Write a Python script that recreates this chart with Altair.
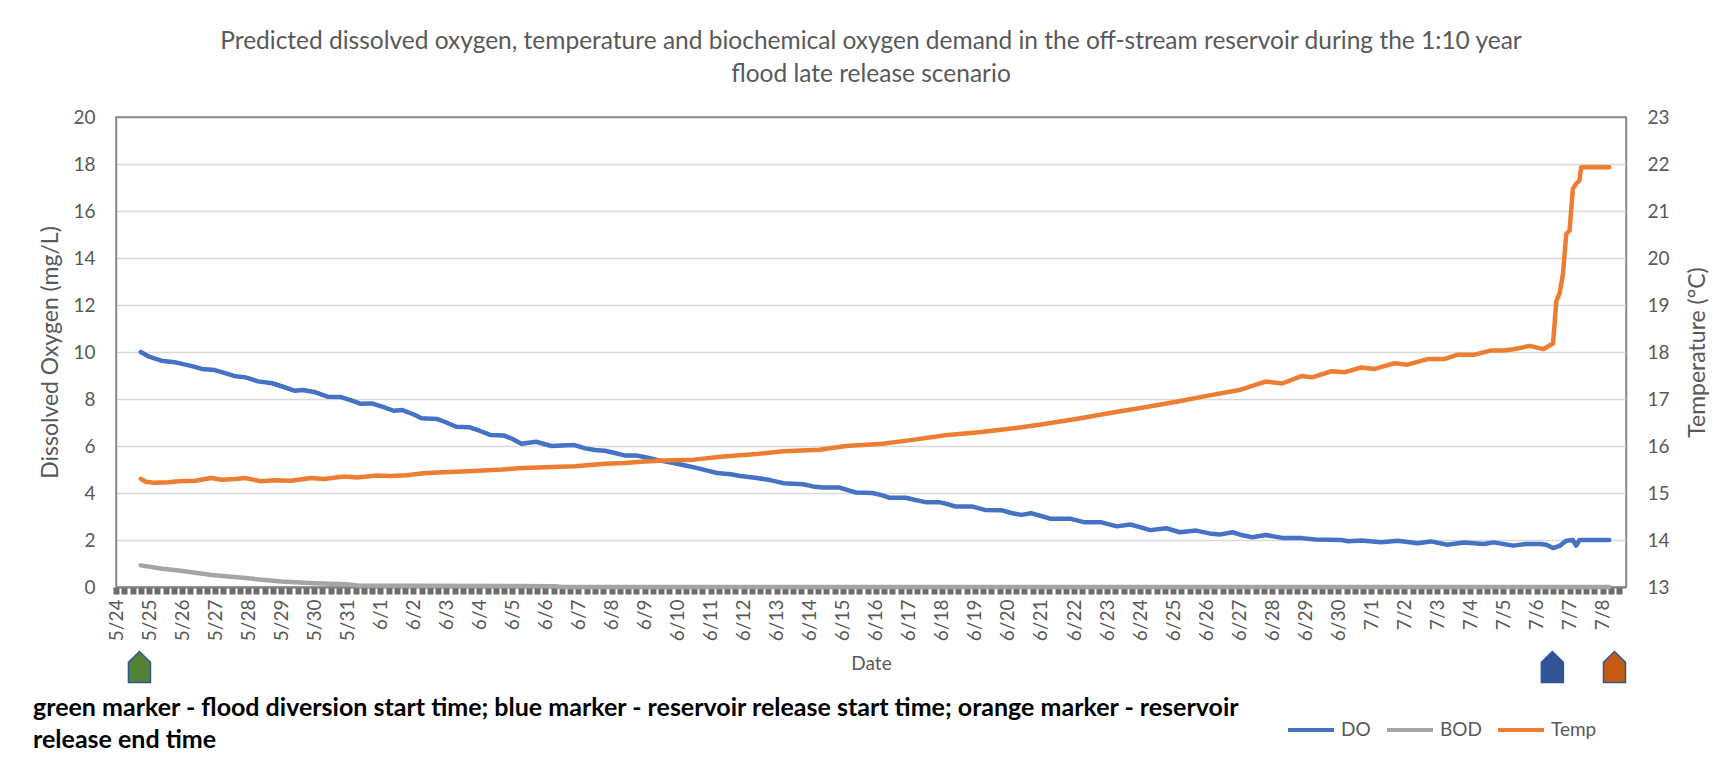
import altair as alt
import pandas as pd

# ---------------- data ----------------
START = "2020-05-24"

do_days = [0.75, 1.0, 1.37, 1.83, 2.3, 2.6, 2.99, 3.3, 3.57, 3.92, 4.3, 4.73, 5.1, 5.42, 5.65,
           6.0, 6.4, 6.81, 7.1, 7.39, 7.74, 8.1, 8.4, 8.67, 9.0, 9.25, 9.71, 10.0, 10.3, 10.69,
           11.0, 11.33, 11.73, 12.0, 12.27, 12.72, 13.18, 13.5, 13.88, 14.2, 14.5, 14.8, 15.1,
           15.39, 15.73, 16.1, 16.4, 16.8, 17.2, 17.6, 17.9, 18.2, 18.6, 18.9, 19.4, 19.8, 20.2,
           20.8, 21.1, 21.4, 21.9, 22.2, 22.4, 22.9, 23.2, 23.4, 23.9, 24.2, 24.5, 24.9, 25.2,
           25.4, 25.9, 26.3, 26.8, 27.1, 27.4, 27.7, 28.0, 28.3, 28.9, 29.3, 29.8, 30.3, 30.7,
           31.0, 31.3, 31.8, 32.2, 32.7, 33.1, 33.4, 33.8, 34.1, 34.4, 34.8, 35.3, 35.9, 36.3,
           37.1, 37.3, 37.7, 38.3, 38.8, 39.4, 39.8, 40.3, 40.8, 41.4, 41.7, 42.3, 42.7, 43.1,
           43.3, 43.5, 43.7, 43.9, 44.1, 44.2, 44.3, 45.2]
do_vals = [10.0, 9.8, 9.63, 9.55, 9.4, 9.28, 9.23, 9.1, 8.98, 8.92, 8.75, 8.67, 8.5, 8.35, 8.38,
           8.3, 8.1, 8.08, 7.95, 7.8, 7.81, 7.65, 7.5, 7.53, 7.35, 7.18, 7.15, 7.0, 6.82, 6.8,
           6.65, 6.47, 6.45, 6.3, 6.1, 6.18, 6.0, 6.02, 6.04, 5.9, 5.83, 5.8, 5.7,
           5.6, 5.6, 5.5, 5.4, 5.3, 5.18, 5.06, 4.95, 4.85, 4.8, 4.72, 4.64, 4.55, 4.42,
           4.37, 4.28, 4.23, 4.23, 4.1, 4.02, 4.0, 3.9, 3.8, 3.8, 3.7, 3.61, 3.61, 3.52,
           3.43, 3.43, 3.28, 3.27, 3.15, 3.07, 3.14, 3.02, 2.9, 2.9, 2.76, 2.76, 2.58, 2.66,
           2.55, 2.42, 2.5, 2.33, 2.4, 2.28, 2.23, 2.33, 2.2, 2.12, 2.21, 2.09, 2.08, 2.02,
           2.0, 1.95, 1.98, 1.9, 1.97, 1.86, 1.94, 1.8, 1.89, 1.83, 1.9, 1.76, 1.83, 1.83,
           1.8, 1.66, 1.75, 1.97, 2.0, 1.76, 2.0, 2.0]

bod_days = [0.75, 1.4, 1.9, 2.9, 4.0, 5.0, 6.0, 7.0, 7.3, 9.0, 12.0, 13.3, 13.5, 45.2]
bod_vals = [0.92, 0.78, 0.70, 0.51, 0.37, 0.23, 0.16, 0.12, 0.06, 0.05, 0.04, 0.03, 0.0, 0.0]

temp_days = [0.75, 0.9, 1.14, 1.6, 1.9, 2.4, 2.88, 3.2, 3.6, 3.9, 4.38, 4.8, 5.3, 5.9, 6.3, 6.9,
             7.3, 7.9, 8.3, 8.8, 9.3, 9.9, 10.5, 11.1, 11.7, 12.3, 12.8, 13.4, 13.9, 14.8, 15.4,
             16.0, 16.6, 17.5, 18.3, 19.4, 20.2, 21.3, 22.1, 23.2, 24.0, 25.1, 26.2, 27.3, 28.1,
             29.2, 30.0, 31.1, 32.1, 32.9, 34.0, 34.8, 35.3, 35.9, 36.2, 36.8, 37.2, 37.7, 38.1,
             38.7, 39.1, 39.7, 40.2, 40.6, 41.1, 41.6, 42.0, 42.3, 42.8, 43.2, 43.5, 43.6, 43.7,
             43.8, 43.9, 44.0, 44.1, 44.2, 44.3, 44.35, 45.2]
temp_vals = [15.30, 15.24, 15.22, 15.23, 15.25, 15.26, 15.32, 15.28, 15.30, 15.32, 15.25, 15.27,
             15.26, 15.32, 15.30, 15.35, 15.33, 15.37, 15.36, 15.38, 15.42, 15.44, 15.46, 15.48,
             15.50, 15.53, 15.54, 15.56, 15.57, 15.62, 15.64, 15.67, 15.69, 15.71, 15.77, 15.83,
             15.89, 15.92, 16.0, 16.05, 16.12, 16.23, 16.30, 16.39, 16.47, 16.59, 16.69, 16.82,
             16.94, 17.05, 17.19, 17.37, 17.33, 17.49, 17.46, 17.59, 17.57, 17.67, 17.64, 17.76,
             17.73, 17.85, 17.85, 17.94, 17.94, 18.03, 18.03, 18.06, 18.13, 18.06, 18.18, 19.09,
             19.25, 19.66, 20.51, 20.59, 21.47, 21.58, 21.65, 21.93, 21.93]

series_names = ["DO", "BOD", "Temp"]
series_colors = ["#4472C4", "#A5A5A5", "#ED7D31"]

marker_names = ["flood diversion start", "reservoir release start", "reservoir release end"]
marker_days = [0.71, 43.48, 45.36]
marker_fills = ["#548235", "#2F5597", "#C55A11"]

title_lines = ["Predicted dissolved oxygen, temperature and biochemical oxygen demand in the off-stream reservoir during the 1:10 year",
               "flood late release scenario"]
note_lines = ["green marker - flood diversion start time; blue marker - reservoir release start time; orange marker - reservoir",
              "release end time"]

# ---------------- tables ----------------
t0 = pd.Timestamp(START)


def to_time(days):
    return [(t0 + pd.to_timedelta(d, unit="D")).strftime("%Y-%m-%dT%H:%M:%S") for d in days]


left_df = pd.concat([
    pd.DataFrame({"time": to_time(do_days), "value": do_vals, "series": "DO"}),
    pd.DataFrame({"time": to_time(bod_days), "value": bod_vals, "series": "BOD"}),
])
temp_df = pd.DataFrame({"time": to_time(temp_days), "value": temp_vals, "series": "Temp"})
marker_df = pd.DataFrame({"time": to_time(marker_days), "marker": marker_names})
note_df = pd.DataFrame({"line": [0, 1], "text": note_lines})

# axis tick positions: every 6 hours
tick_times = pd.date_range(t0, t0 + pd.Timedelta(days=45, hours=12), freq="6h")
tick_values = [alt.DateTime(year=int(t.year), month=int(t.month), date=int(t.day), hours=int(t.hour))
               for t in tick_times]

W, H = 1510, 470
FONT = "Lato"
GREY = "#595959"

x_scale = alt.Scale(domain=[alt.DateTime(year=2020, month=5, date=24, hours=0),
                            alt.DateTime(year=2020, month=7, date=8, hours=17)], nice=False)
x_axis = alt.Axis(title="Date", values=tick_values,
                  labelExpr="timeFormat(datum.value, '%H') == '00' ? timeFormat(datum.value, '%-m/%-d') : ''",
                  labelAngle=270, labelOverlap=False, labelFlush=False, labelPadding=5,
                  tickSize=7, tickWidth=6, tickColor="#6f6b6b", domainColor="#7f7f7f",
                  domainWidth=2, grid=False, titlePadding=14, titleFontSize=19)
x_enc = alt.X("time:T", scale=x_scale, axis=x_axis)

color = alt.Color("series:N", scale=alt.Scale(domain=series_names, range=series_colors),
                  legend=alt.Legend(orient="none", legendX=1170, legendY=588, direction="horizontal",
                                    title=None, symbolType="stroke", symbolStrokeWidth=4,
                                    symbolSize=2116, labelFontSize=19, labelColor=GREY,
                                    labelFont=FONT, columnPadding=8, labelOffset=5))

left = alt.Chart(left_df).mark_line(strokeWidth=4.5, strokeCap="round", strokeJoin="round").encode(
    x=x_enc,
    y=alt.Y("value:Q", scale=alt.Scale(domain=[0, 20], nice=False),
            axis=alt.Axis(title="Dissolved Oxygen (mg/L)", values=list(range(0, 21, 2)),
                          ticks=False, labelPadding=21, titlePadding=10, titleFontSize=23,
                          domainColor="#8c8c8c", domainWidth=1.5,
                          gridColor=alt.condition("datum.value == 20", alt.value("#8c8c8c"),
                                                  alt.value("#d9d9d9")),
                          gridWidth=1.5)),
    color=color,
)

right = alt.Chart(temp_df).mark_line(strokeWidth=4.5, strokeCap="round", strokeJoin="round").encode(
    x=x_enc,
    y=alt.Y("value:Q", scale=alt.Scale(domain=[13, 23], nice=False),
            axis=alt.Axis(title="Temperature (°C)", orient="right", values=list(range(13, 24)),
                          ticks=False, labelPadding=21, titlePadding=17, titleAngle=270,
                          titleFontSize=23, titleBaseline="top", domainColor="#8c8c8c",
                          domainWidth=1.5, grid=False)),
    color=color,
)

house = "M -0.71 1 L 0.71 1 L 0.71 -0.3 L 0 -1 L -0.71 -0.3 Z"
markers = alt.Chart(marker_df).mark_point(shape=house, filled=True, size=961, opacity=1,
                                          stroke="#2F5597", strokeWidth=1.5).encode(
    x=x_enc,
    y=alt.value(H + 80),
    fill=alt.Fill("marker:N", scale=alt.Scale(domain=marker_names, range=marker_fills), legend=None),
)

note = alt.Chart(note_df).mark_text(
    align="left", baseline="alphabetic", font=FONT, fontSize=25, fontWeight="bold",
    color="black").encode(
    x=alt.value(-83),
    y=alt.Y("line:Q", scale=alt.Scale(domain=[0, 1], range=[H + 129, H + 161]), axis=None),
    text="text:N")

chart = alt.layer(left, right, markers, note).resolve_scale(
    y="independent", fill="independent"
).properties(
    width=W, height=H,
    title=alt.TitleParams(text=title_lines, font=FONT, fontSize=24.5, fontWeight="normal",
                          color=GREY, anchor="middle", lineHeight=33, offset=21),
    autosize=alt.AutoSizeParams(type="none"),
    padding={"left": 108, "top": 109, "right": 95, "bottom": 166},
).configure_view(stroke="#8c8c8c", strokeWidth=1.5).configure_axis(
    labelFont=FONT, titleFont=FONT, labelFontSize=19,
    labelColor=GREY, titleColor=GREY, titleFontWeight="normal",
)

chart.save("out.html", embed_options={"renderer": "svg", "actions": False})
